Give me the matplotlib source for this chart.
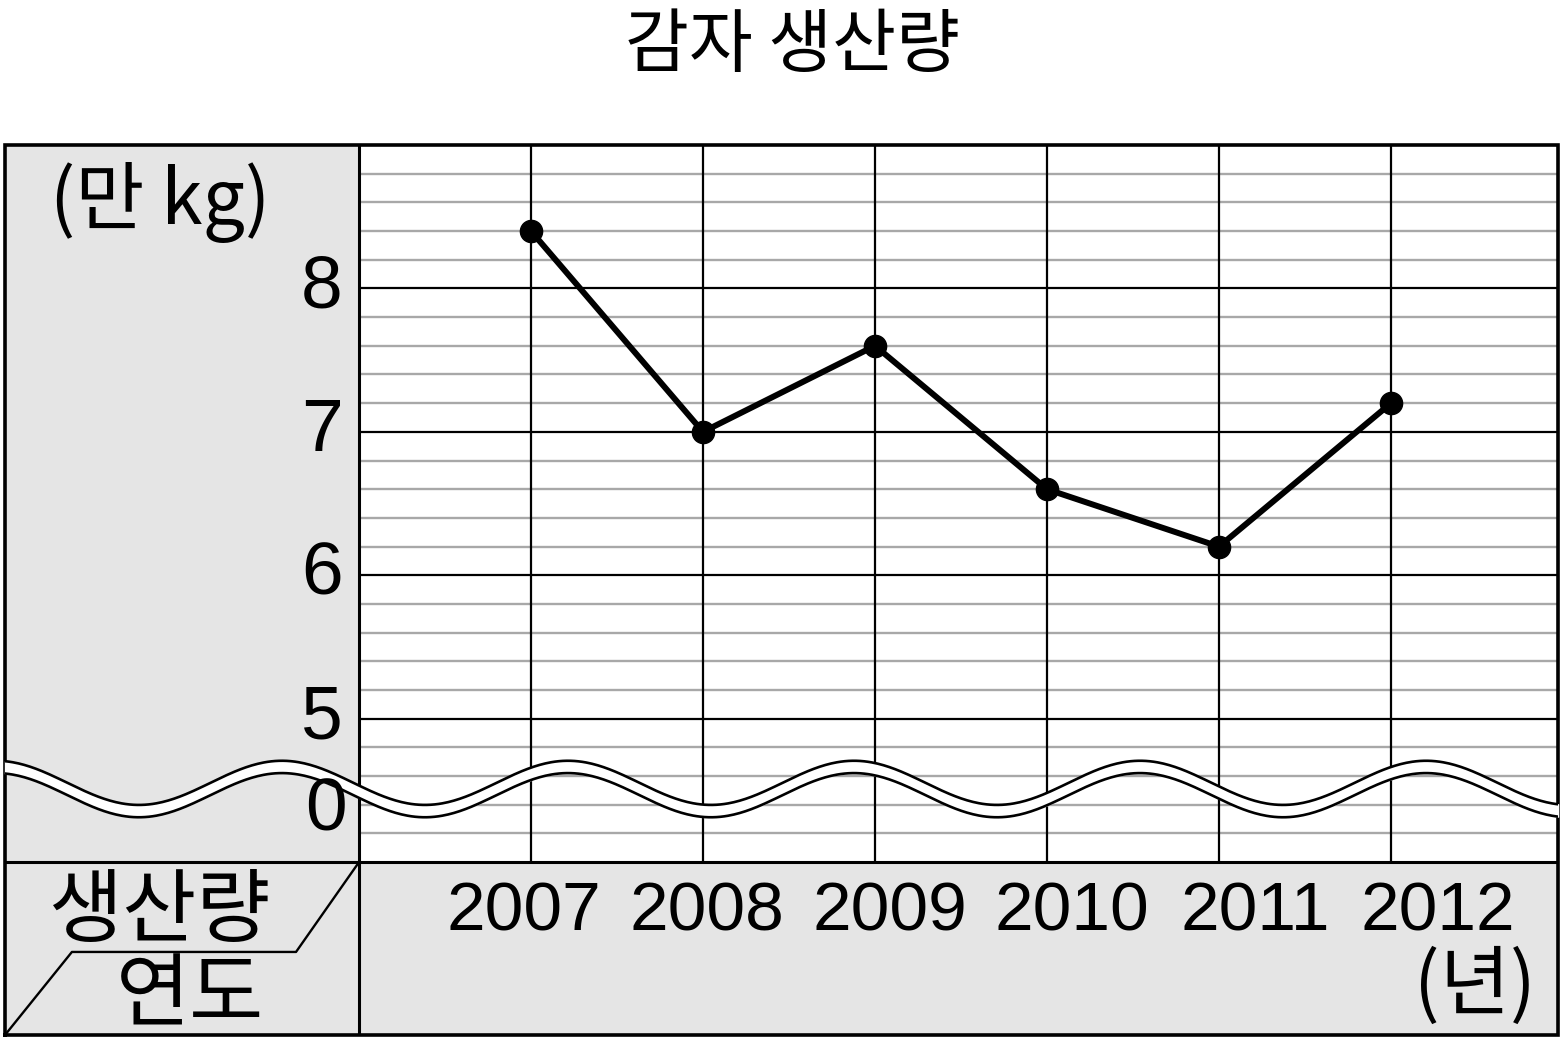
import numpy as np
import matplotlib.pyplot as plt
from matplotlib.patches import Rectangle

plt.rcParams['font.family'] = ['Noto Sans CJK KR', 'DejaVu Sans']
DIGITS = ['Liberation Sans', 'DejaVu Sans']

# data
years = [2007, 2008, 2009, 2010, 2011, 2012]
production = [8.4, 7.0, 7.6, 6.6, 6.2, 7.2]   # 만 kg
ytick_vals = [5, 6, 7, 8]
year_labels = ['2007', '2008', '2009', '2010', '2011', '2012']

title = '감자 생산량'
unit_label = '(만 kg)'
row_label = '생산량'
col_label = '연도'
year_unit = '(년)'

fig = plt.figure(figsize=(15.66, 10.39), dpi=100)
ax = fig.add_axes([5 / 1566, 4 / 1039, 1553 / 1566, 890 / 1039])
x0, x1 = 2003.942, 2012.971
y0, y1 = 2.795, 9.0
xdiv, ydiv = 2006, 4          # header column / header row dividers
ax.set_xlim(x0, x1)
ax.set_ylim(y0, y1)
ax.axis('off')

gray = '#e5e5e5'
ax.add_patch(Rectangle((x0, y0), xdiv - x0, y1 - y0, fc=gray, ec='none', zorder=0))
ax.add_patch(Rectangle((xdiv, y0), x1 - xdiv, ydiv - y0, fc=gray, ec='none', zorder=0))

# grid
minor = [v for v in np.arange(ydiv + 0.2, y1, 0.2) if abs(v - round(v)) > 0.01]
ax.hlines(minor, xdiv, x1, color='#a8a8a8', lw=1.7, zorder=1)
ax.hlines(ytick_vals, xdiv, x1, color='black', lw=1.6, zorder=2)
ax.vlines(years, ydiv, y1, color='black', lw=1.6, zorder=2)

# table frame
ax.plot([x0, x1, x1, x0, x0], [y0, y0, y1, y1, y0], color='black', lw=2.6,
        zorder=3, solid_joinstyle='miter', clip_on=False)
ax.plot([xdiv, xdiv], [y0, y1], color='black', lw=2.2, zorder=3)
ax.plot([x0, x1], [ydiv, ydiv], color='black', lw=2.2, zorder=3)

# diagonal header split
ax.plot([xdiv, 2005.634, 2004.331, x0], [ydiv, 3.374, 3.374, y0],
        color='black', lw=1.7, zorder=3)

# wavy break
xs = np.linspace(x0, x1, 800)
upper = 4.553 + 0.154 * np.cos(2 * np.pi * (xs - 2005.552) / 1.663)
lower = upper - 0.086
ax.fill_between(xs, lower, upper, color='white', zorder=4, clip_on=False)
ax.plot(xs, upper, color='black', lw=1.9, zorder=4)
ax.plot(xs, lower, color='black', lw=1.9, zorder=4)

# data
ax.plot(years, production, color='black', lw=4.3, marker='o', ms=16, zorder=6)

# y labels
for v in ytick_vals:
    ax.text(2005.907, v, str(v), ha='right', va='center', fontsize=54,
            family=DIGITS, zorder=7)
ax.text(2005.93, 4.36, '0', ha='right', va='center', fontsize=54,
        family=DIGITS, zorder=7)

# x labels
for yr, lab in zip(years, year_labels):
    xp = 2007 + (yr - 2007) * 1.062 - 0.04
    ax.text(xp, 3.65, lab, ha='center', va='center', fontsize=50,
            family=DIGITS, zorder=7)

ax.text(2004.843, 8.60, unit_label, ha='center', va='center', fontsize=54, zorder=7)
ax.text(2004.843, 3.65, row_label, ha='center', va='center', fontsize=58, zorder=7)
ax.text(2005.017, 3.06, col_label, ha='center', va='center', fontsize=58, zorder=7)
ax.text(2012.488, 3.13, year_unit, ha='center', va='center', fontsize=55, zorder=7)

fig.text(792 / 1566, 1 - 46 / 1039, title, ha='center', va='center', fontsize=50)

fig.savefig('out.png', dpi=100)
